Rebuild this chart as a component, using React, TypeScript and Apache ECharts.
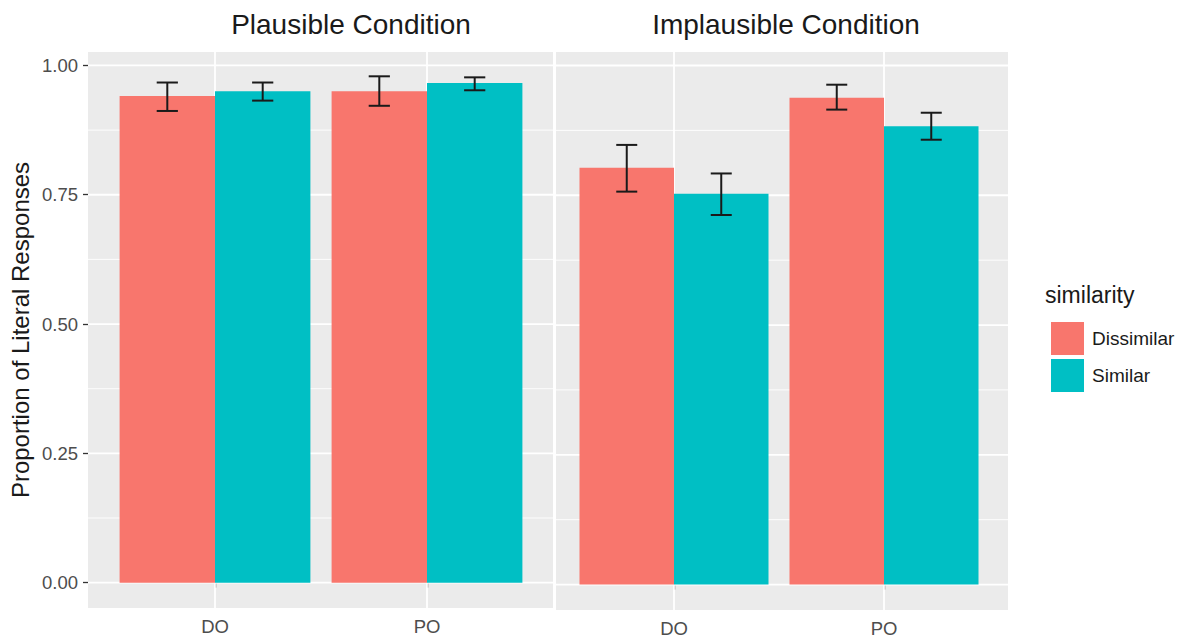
import React, { useEffect, useRef } from "react";
import * as echarts from "echarts";

const categories = ["DO", "PO"];
const panelTitles = ["Plausible Condition", "Implausible Condition"];
const groups = ["Dissimilar", "Similar"];

const plausibleDissimilar = [0.941, 0.95];
const plausibleDissimilarLow = [0.912, 0.922];
const plausibleDissimilarHigh = [0.967, 0.979];
const plausibleSimilar = [0.95, 0.966];
const plausibleSimilarLow = [0.932, 0.952];
const plausibleSimilarHigh = [0.967, 0.977];

const implausibleDissimilar = [0.803, 0.938];
const implausibleDissimilarLow = [0.757, 0.915];
const implausibleDissimilarHigh = [0.847, 0.963];
const implausibleSimilar = [0.753, 0.883];
const implausibleSimilarLow = [0.712, 0.857];
const implausibleSimilarHigh = [0.792, 0.909];

const yMajorTicks = [0, 0.25, 0.5, 0.75, 1];
const yMinorTicks = [0.125, 0.375, 0.625, 0.875];

const Y_MIN = -0.049;
const Y_MAX = 1.026;
const RED = "#F8766D";
const TEAL = "#00BFC4";
const FONT = "'Liberation Sans', Arial, Helvetica, sans-serif";

export default function App() {
  const ref = useRef<HTMLDivElement>(null);

  useEffect(() => {
    if (!ref.current) return;
    const chart = echarts.init(ref.current, null, { renderer: "svg" });

    const gridsA = [
      { left: 88, top: 52, width: 465, height: 556 },
      { left: 556, top: 52, width: 452, height: 558 },
    ];
    const gridsB = [
      { left: 109, top: 52, width: 424, height: 556 },
      { left: 569, top: 52, width: 420, height: 558 },
    ];

    const grid: any[] = [];
    const xAxis: any[] = [];
    const yAxis: any[] = [];
    for (let p = 0; p < 2; p++) {
      grid.push({ ...gridsA[p], show: true, backgroundColor: "#EBEBEB", borderWidth: 0 });
      grid.push({ ...gridsB[p], show: false, containLabel: false });
      xAxis.push({ type: "value", gridIndex: 2 * p, min: 0, max: 1, show: false });
      yAxis.push({
        type: "value",
        gridIndex: 2 * p,
        min: Y_MIN,
        max: Y_MAX,
        show: p === 0,
        splitLine: { show: false },
        axisLine: { show: false },
        axisTick: {
          show: true,
          length: 5,
          customValues: yMajorTicks,
          lineStyle: { color: "#333333", width: 1.3 },
        },
        axisLabel: {
          show: true,
          customValues: yMajorTicks,
          formatter: (v: number) => v.toFixed(2),
          fontSize: 18.5,
          color: "#4D4D4D",
          fontFamily: FONT,
          margin: 10,
        },
      });
      xAxis.push({
        type: "category",
        gridIndex: 2 * p + 1,
        data: categories,
        axisLine: { show: false },
        axisTick: {
          show: true,
          alignWithLabel: true,
          length: 5,
          lineStyle: { color: "#333333", width: 1.3 },
        },
        axisLabel: { fontSize: 18.5, color: "#4D4D4D", fontFamily: FONT, margin: 9 },
        splitLine: { show: false },
      });
      yAxis.push({
        type: "value",
        gridIndex: 2 * p + 1,
        min: Y_MIN,
        max: Y_MAX,
        show: false,
        splitLine: { show: false },
      });
    }

    const panels = [
      {
        dis: plausibleDissimilar,
        disLow: plausibleDissimilarLow,
        disHigh: plausibleDissimilarHigh,
        sim: plausibleSimilar,
        simLow: plausibleSimilarLow,
        simHigh: plausibleSimilarHigh,
      },
      {
        dis: implausibleDissimilar,
        disLow: implausibleDissimilarLow,
        disHigh: implausibleDissimilarHigh,
        sim: implausibleSimilar,
        simLow: implausibleSimilarLow,
        simHigh: implausibleSimilarHigh,
      },
    ];

    const series: any[] = [];
    const hGridData = [
      ...yMajorTicks.map((v) => [v, 1]),
      ...yMinorTicks.map((v) => [v, 0]),
    ];

    const errRender = (offset: number) => (params: any, api: any) => {
      const cat = api.value(0);
      const low = api.value(1);
      const high = api.value(2);
      const band = api.size([1, 0])[0];
      const cx = api.coord([cat, 0])[0] + offset * band;
      const yTop = api.coord([cat, high])[1];
      const yBot = api.coord([cat, low])[1];
      const hw = band * 0.05;
      const st = { stroke: "#1A1A1A", lineWidth: 2 };
      return {
        type: "group",
        children: [
          { type: "line", shape: { x1: cx, y1: yTop, x2: cx, y2: yBot }, style: st },
          { type: "line", shape: { x1: cx - hw, y1: yTop, x2: cx + hw, y2: yTop }, style: st },
          { type: "line", shape: { x1: cx - hw, y1: yBot, x2: cx + hw, y2: yBot }, style: st },
        ],
      };
    };

    panels.forEach((pd, p) => {
      const ax = 2 * p;
      const bx = 2 * p + 1;
      series.push({
        type: "custom",
        name: "hgrid" + p,
        xAxisIndex: ax,
        yAxisIndex: ax,
        z: 1,
        silent: true,
        data: hGridData,
        renderItem: (params: any, api: any) => {
          const v = api.value(0);
          const major = api.value(1) === 1;
          const a = api.coord([0, v]);
          const b = api.coord([1, v]);
          return {
            type: "line",
            shape: { x1: a[0], y1: a[1], x2: b[0], y2: b[1] },
            style: { stroke: "#FFFFFF", lineWidth: major ? 1.8 : 0.9 },
          };
        },
      });
      series.push({
        type: "custom",
        name: "vgrid" + p,
        xAxisIndex: bx,
        yAxisIndex: bx,
        z: 1,
        silent: true,
        data: categories.map((_, i) => [i]),
        renderItem: (params: any, api: any) => {
          const x = api.coord([api.value(0), 0])[0];
          const cs = params.coordSys;
          return {
            type: "line",
            shape: { x1: x, y1: cs.y, x2: x, y2: cs.y + cs.height },
            style: { stroke: "#FFFFFF", lineWidth: 1.8 },
          };
        },
      });
      series.push({
        type: "bar",
        name: groups[0],
        xAxisIndex: bx,
        yAxisIndex: bx,
        z: 2,
        data: pd.dis,
        barWidth: "45%",
        barGap: "0%",
        itemStyle: { color: RED },
      });
      series.push({
        type: "bar",
        name: groups[1],
        xAxisIndex: bx,
        yAxisIndex: bx,
        z: 2,
        data: pd.sim,
        barWidth: "45%",
        barGap: "0%",
        itemStyle: { color: TEAL },
      });
      series.push({
        type: "custom",
        name: "errDis" + p,
        xAxisIndex: bx,
        yAxisIndex: bx,
        z: 3,
        silent: true,
        data: categories.map((_, i) => [i, pd.disLow[i], pd.disHigh[i]]),
        renderItem: errRender(-0.225),
      });
      series.push({
        type: "custom",
        name: "errSim" + p,
        xAxisIndex: bx,
        yAxisIndex: bx,
        z: 3,
        silent: true,
        data: categories.map((_, i) => [i, pd.simLow[i], pd.simHigh[i]]),
        renderItem: errRender(0.225),
      });
    });

    chart.setOption({
      animation: false,
      backgroundColor: "#FFFFFF",
      textStyle: { fontFamily: FONT },
      grid,
      xAxis,
      yAxis,
      series,
      legend: {
        data: groups,
        orient: "vertical",
        left: 1046,
        top: 317,
        icon: "rect",
        itemWidth: 33,
        itemHeight: 33,
        itemGap: 4,
        selectedMode: false,
        textStyle: { fontSize: 19, color: "#1A1A1A", fontFamily: FONT, padding: [0, 0, 0, 3] },
      },
      graphic: [
        {
          type: "text",
          style: {
            x: 351,
            y: 24,
            text: panelTitles[0],
            fontSize: 28,
            fontFamily: FONT,
            fill: "#1A1A1A",
            textAlign: "center",
            textVerticalAlign: "middle",
          },
        },
        {
          type: "text",
          style: {
            x: 786,
            y: 24,
            text: panelTitles[1],
            fontSize: 28,
            fontFamily: FONT,
            fill: "#1A1A1A",
            textAlign: "center",
            textVerticalAlign: "middle",
          },
        },
        {
          type: "text",
          x: 20,
          y: 330,
          rotation: Math.PI / 2,
          style: {
            x: 0,
            y: 0,
            text: "Proportion of Literal Responses",
            fontSize: 24,
            fontFamily: FONT,
            fill: "#1A1A1A",
            textAlign: "center",
            textVerticalAlign: "middle",
          },
        },
        {
          type: "text",
          style: {
            x: 1045,
            y: 295,
            text: "similarity",
            fontSize: 23,
            fontFamily: FONT,
            fill: "#1A1A1A",
            textAlign: "left",
            textVerticalAlign: "middle",
          },
        },
      ],
    });

    return () => chart.dispose();
  }, []);

  return (
    <div
      ref={ref}
      style={{ position: "fixed", left: 0, top: 0, width: 1180, height: 638, background: "#fff" }}
    />
  );
}
